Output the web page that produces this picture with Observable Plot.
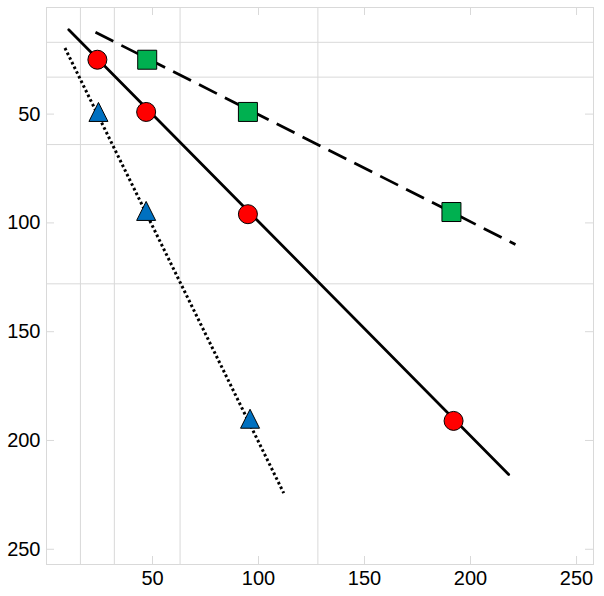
<!DOCTYPE html>
<html>
<head>
<meta charset="utf-8">
<script src="https://cdn.jsdelivr.net/npm/d3@7"></script>
<script src="https://cdn.jsdelivr.net/npm/@observablehq/plot@0.6"></script>
<style>
  html, body { margin: 0; padding: 0; background: #fff; }
  #chart { width: 604px; height: 596px; }
</style>
</head>
<body>
<div id="chart"></div>
<script>
// Series markers
const circleX = [24, 47, 95, 192];
const circleY = [25, 49, 96, 191];
const squareX = [47.5, 95, 191];
const squareY = [25, 49, 95];
const triangleX = [24.5, 47, 96];
const triangleY = [49, 94.5, 190];

// Line endpoints
const solidLineX = [10.5, 218];
const solidLineY = [11.2, 215.6];
const dashedLineX = [23.1, 221.2];
const dashedLineY = [12.4, 109.9];
const dottedLineX = [8.7, 111.9];
const dottedLineY = [19.6, 224.2];

// Axes
const xTicks = [50, 100, 150, 200, 250];
const yTicks = [50, 100, 150, 200, 250];
const gridX = [16, 32, 63, 128];
const gridY = [17, 33, 64, 128];
const xDomain = [0, 258];
const yDomain = [1, 257];

const zip = (xs, ys) => xs.map((x, i) => ({x, y: ys[i]}));
const circles = zip(circleX, circleY);
const squares = zip(squareX, squareY);
const triangles = zip(triangleX, triangleY);
const solidLine = zip(solidLineX, solidLineY);
const dashedLine = zip(dashedLineX, dashedLineY);
const dottedLine = zip(dottedLineX, dottedLineY);

const squareSymbol = {
  draw(context, size) {
    const h = Math.sqrt(size / Math.PI);
    context.rect(-h, -h, 2 * h, 2 * h);
  }
};
const triangleSymbol = {
  draw(context, size) {
    const h = Math.sqrt(size / Math.PI);
    context.moveTo(0, -h);
    context.lineTo(h, h);
    context.lineTo(-h, h);
    context.closePath();
  }
};

const W = 604, H = 596;
const mL = 46, mR = 11, mT = 7, mB = 32;
const frameH = H - mT - mB;
const frameW = W - mL - mR;
const tickLen = 8;
const light = "#d9d9d9";

const chart = Plot.plot({
  width: W,
  height: H,
  marginLeft: mL,
  marginRight: mR,
  marginTop: mT,
  marginBottom: mB,
  style: {fontFamily: "'Liberation Sans', Arial, sans-serif", fontSize: "20px", color: "#000", background: "#fff"},
  x: {domain: xDomain},
  y: {domain: yDomain, reverse: true},
  marks: [
    Plot.ruleX(gridX, {stroke: light, strokeWidth: 1}),
    Plot.ruleY(gridY, {stroke: light, strokeWidth: 1}),
    Plot.tickX(xTicks, {x: d => d, stroke: light, insetTop: frameH - tickLen}),
    Plot.tickX(xTicks, {x: d => d, stroke: light, insetBottom: frameH - tickLen}),
    Plot.tickY(yTicks, {y: d => d, stroke: light, insetRight: frameW - tickLen}),
    Plot.tickY(yTicks, {y: d => d, stroke: light, insetLeft: frameW - tickLen}),
    Plot.frame({stroke: light, strokeWidth: 1}),
    Plot.axisX(xTicks, {tickSize: 0, tickPadding: 6, fontSize: 20, label: null}),
    Plot.axisY(yTicks, {tickSize: 0, tickPadding: 6, fontSize: 20, label: null}),
    Plot.line(solidLine, {x: "x", y: "y", stroke: "#000", strokeWidth: 2.75}),
    Plot.line(dashedLine, {x: "x", y: "y", stroke: "#000", strokeWidth: 2.75, strokeDasharray: "20,9", strokeLinecap: "butt"}),
    Plot.line(dottedLine, {x: "x", y: "y", stroke: "#000", strokeWidth: 3, strokeDasharray: "2.6,2.6", strokeLinecap: "butt"}),
    Plot.dot(circles, {x: "x", y: "y", symbol: "circle", r: 9.5, fill: "#FF0000", stroke: "#000", strokeWidth: 1}),
    Plot.dot(squares, {x: "x", y: "y", symbol: squareSymbol, r: 9.5, fill: "#00B050", stroke: "#000", strokeWidth: 1}),
    Plot.dot(triangles, {x: "x", y: "y", symbol: triangleSymbol, r: 9.5, fill: "#0070C0", stroke: "#000", strokeWidth: 1})
  ]
});
document.getElementById("chart").appendChild(chart);
</script>
</body>
</html>
